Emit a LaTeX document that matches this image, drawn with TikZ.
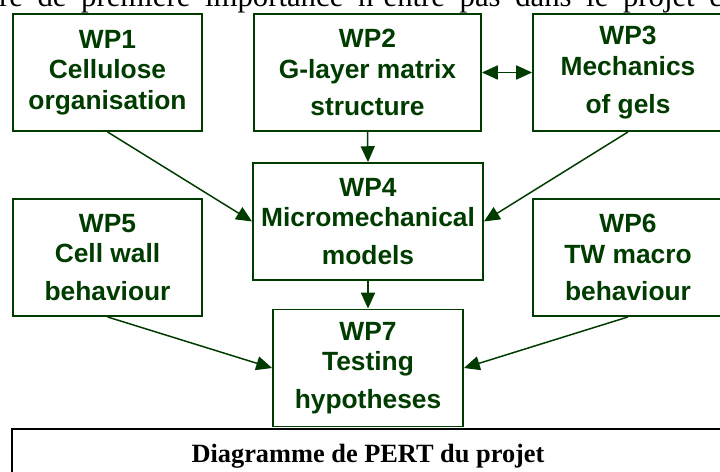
\documentclass[tikz,border=0pt]{standalone}
\usepackage{fontspec}
\setmainfont{Liberation Serif}
\newfontfamily\arialfont{Liberation Sans}
\usetikzlibrary{arrows.meta}
\definecolor{wpgreen}{HTML}{003C00}

\begin{document}
\begin{tikzpicture}[x=0.02cm,y=-0.02cm,
  wpbox/.style={draw=wpgreen,line width=1.1pt,text=wpgreen,align=center,inner sep=0pt,
    minimum height=2.34cm,font=\arialfont\bfseries\fontsize{15}{17.5}\selectfont},
  link/.style={draw=wpgreen,line width=0.85pt,-{Triangle[length=9pt,width=8pt]}},
  twolink/.style={draw=wpgreen,line width=0.85pt,{Triangle[length=9pt,width=8pt]}-{Triangle[length=9pt,width=8pt]}}]
\useasboundingbox (0,0) rectangle (720,472);
% clipped line of the page above
\node[anchor=base,inner sep=0pt,font=\fontsize{17.5}{20}\selectfont] (pagetext) at (361,7)
  {\makebox[14.48cm][s]{re de première importance n'entre pas dans le projet e}};
% work packages
\node[wpbox,minimum width=3.78cm] (wp1) at (107.5,72.5) {WP1\\Cellulose\\organisation};
\node[wpbox,minimum width=4.54cm] (wp2) at (367.5,72.5) {WP2\\G-layer matrix\\[4pt]structure};
\node[wpbox,minimum width=3.8cm] (wp3) at (628,72.5) {WP3\\Mechanics\\[4pt]of gels};
\node[wpbox,minimum width=4.6cm] (wp4) at (368,221.5) {WP4\\Micromechanical\\[4pt]models};
\node[wpbox,minimum width=3.78cm] (wp5) at (107.5,257.5) {WP5\\Cell wall\\[4pt]behaviour};
\node[wpbox,minimum width=3.8cm] (wp6) at (628,257.5) {WP6\\TW macro\\[4pt]behaviour};
\node[wpbox,minimum width=3.8cm] (wp7) at (368,368) {WP7\\Testing\\[4pt]hypotheses};
% dependencies
\draw[twolink] (wp2.east) -- (wp3.west);
\draw[link] (wp1.south) -- (wp4.west);
\draw[link] (wp2.south) -- (wp4.north);
\draw[link] (wp3.south) -- (wp4.east);
\draw[link] (wp4.south) -- (wp7.north);
\draw[link] (wp5.south) -- (wp7.west);
\draw[link] (wp6.south) -- (wp7.east);
% caption
\node[draw,line width=0.9pt,minimum width=14.24cm,minimum height=1.22cm,inner sep=0pt] (capbox) at (368,459.5) {};
\node[anchor=base,inner sep=0pt,font=\bfseries\fontsize{15}{18}\selectfont] (caption) at (368,463) {Diagramme de PERT du projet};
\end{tikzpicture}
\end{document}
